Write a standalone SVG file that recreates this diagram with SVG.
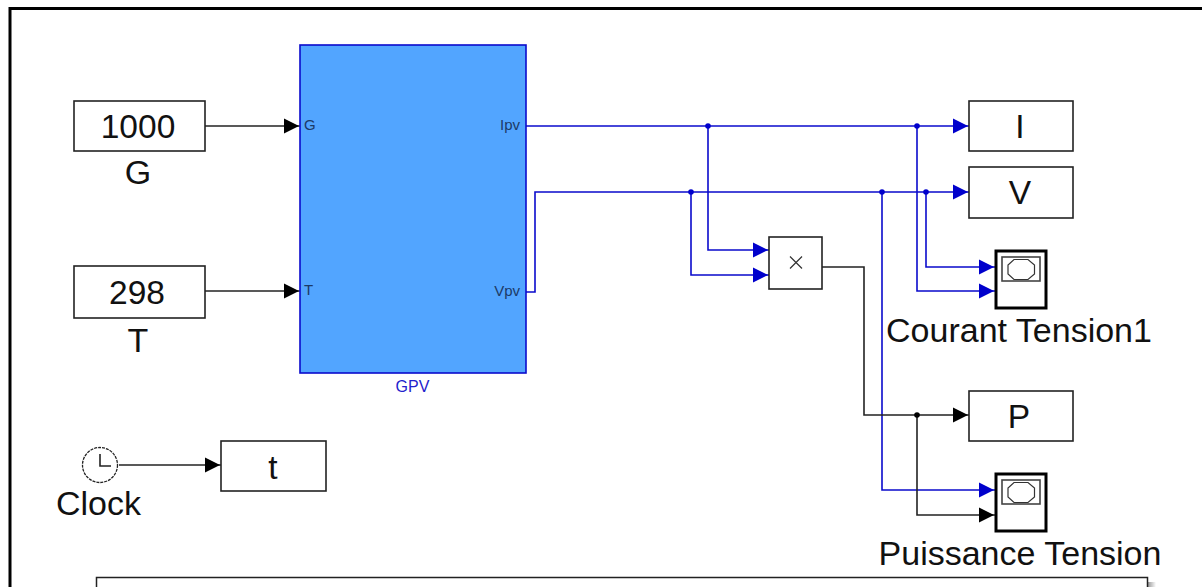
<svg xmlns="http://www.w3.org/2000/svg" width="1202" height="587" viewBox="0 0 1202 587">
<defs>
<marker id="ab" markerUnits="userSpaceOnUse" markerWidth="16" markerHeight="16" refX="16" refY="8" orient="auto"><path d="M0,0.500L15,8L0,15.500Z" fill="#000"/></marker>
<marker id="au" markerUnits="userSpaceOnUse" markerWidth="16" markerHeight="16" refX="16" refY="8" orient="auto"><path d="M0,0.500L15,8L0,15.500Z" fill="#0000cc"/></marker>
<linearGradient id="sh" x1="0" x2="1" y1="0" y2="0"><stop offset="0" stop-color="#999"/><stop offset="1" stop-color="#fff"/></linearGradient>
</defs>
<style>
text{font-family:"Liberation Sans",Arial,sans-serif;fill:#111}
.lbl{font-size:33.500px;text-anchor:middle}
.name{font-size:34px;text-anchor:middle}
.box{fill:#fff;stroke:#222;stroke-width:1.600}
.k{fill:none;stroke:#222;stroke-width:1.600}
.b{fill:none;stroke:#0a0acc;stroke-width:1.600}
.port{font-size:15px;fill:#1c3a66}
.scope{fill:#fff;stroke:#000;stroke-width:3}
.screen{fill:#fff;stroke:#444;stroke-width:1.600}
.dotb{fill:#0000cc}.dotk{fill:#000}
</style>
<path d="M10,587V8.500H1202" fill="none" stroke="#000" stroke-width="3"/>
<g id="connectors">
<path class="k" d="M205,126H300" marker-end="url(#ab)"/>
<path class="k" d="M205,291H300" marker-end="url(#ab)"/>
<path class="k" d="M119,465H221" marker-end="url(#ab)"/>
<path class="b" d="M526,126H969" marker-end="url(#au)"/>
<path class="b" d="M526,292H535V192H969" marker-end="url(#au)"/>
<path class="b" d="M708,126V250H769" marker-end="url(#au)"/>
<path class="b" d="M691,192V275H769" marker-end="url(#au)"/>
<path class="b" d="M926,192V267H995" marker-end="url(#au)"/>
<path class="b" d="M917,126V291H995" marker-end="url(#au)"/>
<path class="b" d="M882,192V490H995" marker-end="url(#au)"/>
<path class="k" d="M822,267H864V415H969" marker-end="url(#ab)"/>
<path class="k" d="M917,415V515H995" marker-end="url(#ab)"/>
<circle class="dotb" cx="708" cy="126" r="2.800"/>
<circle class="dotb" cx="917" cy="126" r="2.800"/>
<circle class="dotb" cx="691" cy="192" r="2.800"/>
<circle class="dotb" cx="882" cy="192" r="2.800"/>
<circle class="dotb" cx="926" cy="192" r="2.800"/>
<circle class="dotk" cx="917" cy="415" r="2.800"/>
</g>
<g id="const-g"><rect class="box" x="74" y="101" width="131" height="50"/><text class="lbl" x="138" y="138">1000</text><text class="name" x="138" y="184">G</text></g>
<g id="const-t"><rect class="box" x="74" y="266" width="131" height="52"/><text class="lbl" x="137" y="304">298</text><text class="name" x="138" y="352">T</text></g>
<g id="gpv"><rect x="300" y="45" width="226" height="328" fill="#52a5ff" stroke="#0a0acc" stroke-width="1.600"/>
<text class="port" x="304" y="130">G</text><text class="port" x="304" y="295">T</text>
<text class="port" x="520" y="130" text-anchor="end">Ipv</text><text class="port" x="520" y="296" text-anchor="end">Vpv</text>
<text x="412.500" y="392" font-size="16" text-anchor="middle" style="fill:#2222cc">GPV</text></g>
<g id="clock"><circle cx="100" cy="465" r="17.500" fill="#fff" stroke="#222" stroke-width="1.300" stroke-dasharray="3 1"/><path class="k" d="M100,454V466H111"/><text class="name" x="98.500" y="515">Clock</text></g>
<g id="sink-t"><rect class="box" x="221" y="441" width="105" height="50"/><text class="lbl" x="273" y="479">t</text></g>
<g id="product"><rect class="box" x="769" y="237" width="53" height="52"/><path d="M790,256.500L802,268.500M802,256.500L790,268.500" fill="none" stroke="#333" stroke-width="1.200"/></g>
<g id="sink-i"><rect class="box" x="969" y="101" width="104" height="50"/><text class="lbl" x="1020" y="138">I</text></g>
<g id="sink-v"><rect class="box" x="969" y="167" width="104" height="51"/><text class="lbl" x="1020" y="204">V</text></g>
<g id="sink-p"><rect class="box" x="969" y="391" width="104" height="50"/><text class="lbl" x="1019" y="428">P</text></g>
<g id="scope1"><rect class="scope" x="996" y="251" width="50" height="57"/><rect class="screen" x="1002" y="257" width="38" height="24"/><path d="M1014,259.500H1028L1034.500,265V274L1028,279.500H1014L1008,274V265Z" fill="none" stroke="#333" stroke-width="1.200"/><text class="name" x="1019" y="342">Courant Tension1</text></g>
<g id="scope2"><rect class="scope" x="996" y="474" width="50" height="57"/><rect class="screen" x="1002" y="480" width="38" height="24"/><path d="M1014,482.500H1028L1034.500,488V497L1028,502.500H1014L1008,497V488Z" fill="none" stroke="#333" stroke-width="1.200"/><text class="name" x="1020" y="565">Puissance Tension</text></g>
<rect x="1148" y="582" width="8" height="5" fill="url(#sh)"/>
<path d="M96.500,587V577.500H1147.500V587" fill="#fff" stroke="#222" stroke-width="1.500"/>
</svg>
